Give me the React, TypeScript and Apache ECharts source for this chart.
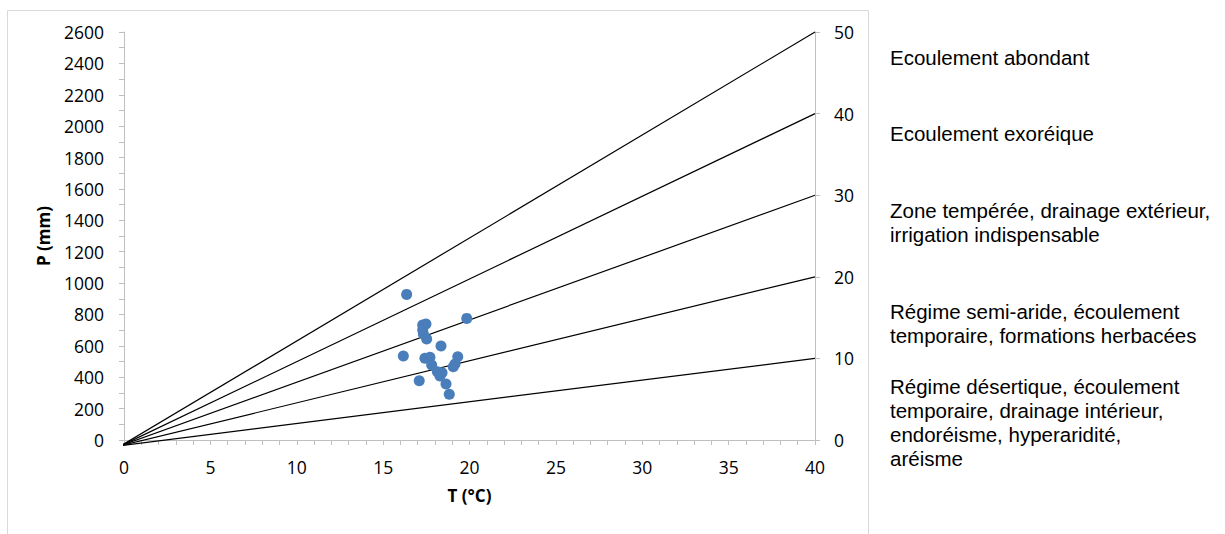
import React, { useEffect, useRef } from "react";
import * as echarts from "echarts";

// Scatter points: temperature (°C), precipitation (mm)
const tempC = [16.36, 19.84, 17.29, 17.48, 17.29, 17.33, 17.52, 18.35, 16.17, 17.42, 17.71, 19.32, 17.81, 19.16, 19.06, 18.14, 18.29, 18.41, 17.09, 18.64, 18.83];
const precipMm = [928, 775, 733, 739, 701, 676, 644, 599, 535, 521, 527, 531, 478, 484, 467, 435, 408, 429, 378, 357, 291];

// Aridity index lines (right axis values) and their end precipitation at T = 40
const indexValues = [50, 40, 30, 20, 10];
const lineEndP = [2600, 2080, 1560, 1040, 520];
const lineEndT = 40;
const lineStartT = -0.15;
const lineStartP = -35;

const xTicks = { min: 0, max: 40, interval: 5 };
const yLeftTicks = { min: 0, max: 2600, interval: 200 };
const yRightTicks = { min: 0, max: 50, interval: 10 };

const zoneLabels = [
  "Ecoulement abondant",
  "Ecoulement exoréique",
  "Zone tempérée, drainage extérieur,\nirrigation indispensable",
  "Régime semi-aride, écoulement\ntemporaire, formations herbacées",
  "Régime désertique, écoulement\ntemporaire, drainage intérieur,\nendoréisme, hyperaridité,\naréisme",
];
const zoneLabelTop = [45, 121, 198, 299, 374];

export default function App() {
  const ref = useRef<HTMLDivElement>(null);
  useEffect(() => {
    if (!ref.current) return;
    const chart = echarts.init(ref.current, null, { renderer: "svg" });
    const axisFont = "Open Sans";
    const axisColor = "#bfbfbf";
    const plain = (v: number) => String(v);
    const lineSeries = indexValues.map((iv, i) => ({
      type: "line",
      name: "I=" + iv,
      data: [
        [lineStartT, lineStartP],
        [lineEndT, lineEndP[i]],
      ],
      symbol: "none",
      clip: false,
      lineStyle: { color: "#000", width: 1.2 },
      z: 2,
      silent: true,
    }));
    chart.setOption({
      animation: false,
      grid: { left: 124, top: 32, width: 691, height: 408 },
      xAxis: {
        type: "value",
        min: xTicks.min,
        max: xTicks.max,
        interval: xTicks.interval,
        name: "T (°C)",
        nameLocation: "middle",
        nameGap: 47,
        nameTextStyle: { fontFamily: axisFont, fontWeight: "bold", fontSize: 17, color: "#000" },
        axisLine: { show: true, lineStyle: { color: axisColor } },
        axisTick: { show: true, length: 5, lineStyle: { color: axisColor } },
        minorTick: { show: true, splitNumber: 5, length: 5, lineStyle: { color: axisColor } },
        splitLine: { show: false },
        axisLabel: { fontFamily: axisFont, fontSize: 17.5, color: "#000", margin: 18, formatter: plain },
      },
      yAxis: [
        {
          type: "value",
          min: yLeftTicks.min,
          max: yLeftTicks.max,
          interval: yLeftTicks.interval,
          name: "P (mm)",
          nameLocation: "middle",
          nameGap: 72,
          nameTextStyle: { fontFamily: axisFont, fontWeight: "bold", fontSize: 17, color: "#000" },
          axisLine: { show: true, lineStyle: { color: axisColor } },
          axisTick: { show: true, length: 5, lineStyle: { color: axisColor } },
          minorTick: { show: true, splitNumber: 2, length: 5, lineStyle: { color: axisColor } },
          splitLine: { show: false },
          axisLabel: { fontFamily: axisFont, fontSize: 17.5, color: "#000", margin: 20, formatter: plain },
        },
        {
          type: "value",
          position: "right",
          min: yRightTicks.min,
          max: yRightTicks.max,
          interval: yRightTicks.interval,
          axisLine: { show: true, lineStyle: { color: axisColor } },
          axisTick: { show: true, length: 5, lineStyle: { color: axisColor } },
          splitLine: { show: false },
          axisLabel: { fontFamily: axisFont, fontSize: 17.5, color: "#000", margin: 19, formatter: plain },
        },
      ],
      series: [
        ...lineSeries,
        {
          type: "scatter",
          data: tempC.map((t, i) => [t, precipMm[i]]),
          symbol: "circle",
          symbolSize: 11,
          itemStyle: { color: "#4A7EBB", opacity: 1 },
          z: 5,
        },
      ],
      graphic: [
        {
          type: "rect",
          shape: { x: 7.5, y: 10.5, width: 861, height: 580 },
          style: { fill: "none", stroke: "#d9d9d9", lineWidth: 1 },
          silent: true,
          z: -1,
        },
        ...zoneLabels.map((txt, i) => ({
          type: "text",
          x: 890,
          y: zoneLabelTop[i],
          style: {
            text: txt,
            fontFamily: "Liberation Sans",
            fontSize: 20.5,
            lineHeight: 24,
            fill: "#000",
            textVerticalAlign: "top",
            textAlign: "left",
          },
        })),
      ],
    });
    return () => chart.dispose();
  }, []);
  return (
    <div
      ref={ref}
      style={{ position: "absolute", left: 0, top: 0, width: 1225, height: 534, background: "#fff" }}
    />
  );
}
